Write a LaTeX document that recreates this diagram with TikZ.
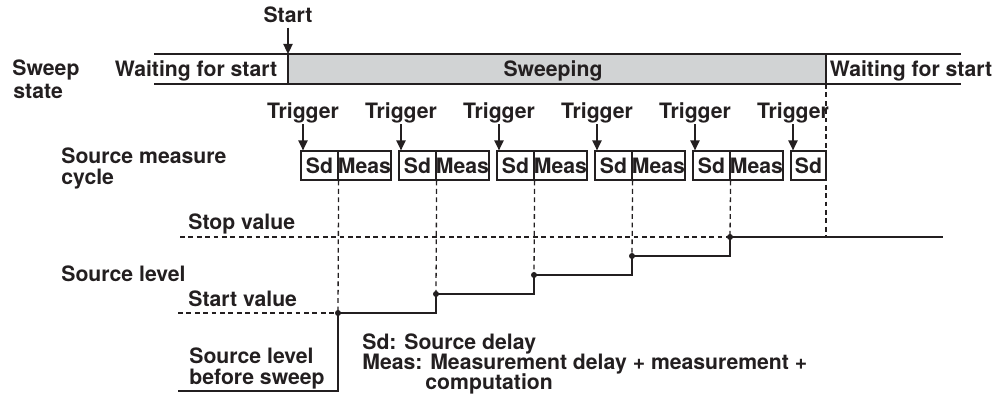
\documentclass[tikz,border=0pt]{standalone}
\usepackage{fontspec}
\setmainfont{TeX Gyre Heros}
\usetikzlibrary{arrows.meta}
\definecolor{ink}{HTML}{231F20}
\definecolor{band}{HTML}{D1D3D4}
\begin{document}
\begin{tikzpicture}[x=0.5pt,y=-0.5pt,
  txt/.style={font=\fontsize{10.6}{12}\selectfont\bfseries, text=ink, inner sep=0pt},
  lbl/.style={txt, anchor=base west},
  ctr/.style={txt, anchor=base},
  ln/.style={draw=ink, line width=0.8pt},
  dsh/.style={draw=ink, line width=0.65pt, dash pattern=on 2.4pt off 1.8pt},
  arr/.style={ln, -{Triangle[length=5pt,width=4.6pt]}},
  cell/.style={draw=ink, line width=0.6pt, minimum height=14.5pt, inner sep=0pt, txt, anchor=center},
  sdcell/.style={cell, minimum width=18.5pt},
  meascell/.style={cell, minimum width=26.5pt},
  dot/.style={circle, fill=ink, inner sep=0pt, minimum size=3pt}
]
\useasboundingbox (0,0) rectangle (1007,399);

% sweep state bar
\fill[band] (288,54) rectangle (826,84);
\coordinate (barTL) at (154,54);
\coordinate (barTR) at (961,54);
\coordinate (barBL) at (154,84);
\coordinate (barBR) at (961,84);
\coordinate (s0) at (288,54);
\coordinate (s1) at (288,84);
\coordinate (e0) at (826,54);
\coordinate (e1) at (826,84);
\draw[ln] (barTL) -- (barTR);
\draw[ln] (barBL) -- (barBR);
\draw[ln] (s0) -- (s1);
\draw[ln] (e0) -- (e1);

\node[ctr] (startlbl) at (288,23) {Start};
\draw[arr] ([yshift=-2pt]startlbl.south) -- (s0);

\node[ctr] (wait1) at (196,77) {Waiting for start};
\node[ctr] (sweeping) at (553,77) {Sweeping};
\node[ctr] (wait2) at (911,77) {Waiting for start};

\node[lbl] (sweep) at (12,76) {Sweep};
\node[lbl] (state) at (13,99) {state};
\node[lbl] (srcm) at (61,164) {Source measure};
\node[lbl] (cyc) at (61,185) {cycle};

% source measure cycles
\foreach \i in {0,...,4}{
  \pgfmathsetmacro{\L}{301+98*\i}
  \node[sdcell] (sd\i) at (\L+18.5,165.5) {Sd};
  \node[meascell] (meas\i) at (\L+63.5,165.5) {Meas};
  \node[ctr] (trg\i) at (\L+2,119) {Trigger};
  \draw[arr] (trg\i.south) -- (sd\i.north -| trg\i.south);
}
\node[cell, minimum width=17.5pt] (sd5) at (808.5,165.5) {Sd};
\node[ctr] (trg5) at (793,119) {Trigger};
\draw[arr] (trg5.south) -- (sd5.north -| trg5.south);

% levels
\coordinate (b0) at (178,391);
\coordinate (p0) at (338,313);
\coordinate (p1) at (436,294);
\coordinate (p2) at (534,275);
\coordinate (p3) at (632,256);
\coordinate (p4) at (730,237);
\coordinate (pe) at (943,237);
\coordinate (stopL) at (180,237);
\coordinate (startL) at (178,313);
\coordinate (endTop) at (826,84);
\coordinate (endBot) at (826,237);

\foreach \i in {0,...,4}{
  \draw[dsh] (sd\i.south east) -- (p\i);
}
\draw[dsh] (endTop) -- (endBot);
\draw[dsh] (stopL) -- (p4);
\draw[dsh] (startL) -- (p0);

\draw[ln] (b0) -| (p0) -| (p1) -| (p2) -| (p3) -| (p4) -- (pe);
\foreach \i in {0,...,4}{ \node[dot] (d\i) at (p\i) {}; }

\node[lbl] (stopv) at (188,230) {Stop value};
\node[lbl] (startv) at (188,307) {Start value};
\node[lbl] (srclvl) at (61,282) {Source level};
\node[lbl] (before1) at (189,364) {Source level};
\node[lbl] (before2) at (189,385) {before sweep};

\node[lbl] (leg1) at (362,350) {Sd: Source delay};
\node[lbl] (leg2) at (362,370) {Meas: Measurement delay + measurement +};
\node[lbl] (leg3) at (425,390) {computation};
\end{tikzpicture}
\end{document}
